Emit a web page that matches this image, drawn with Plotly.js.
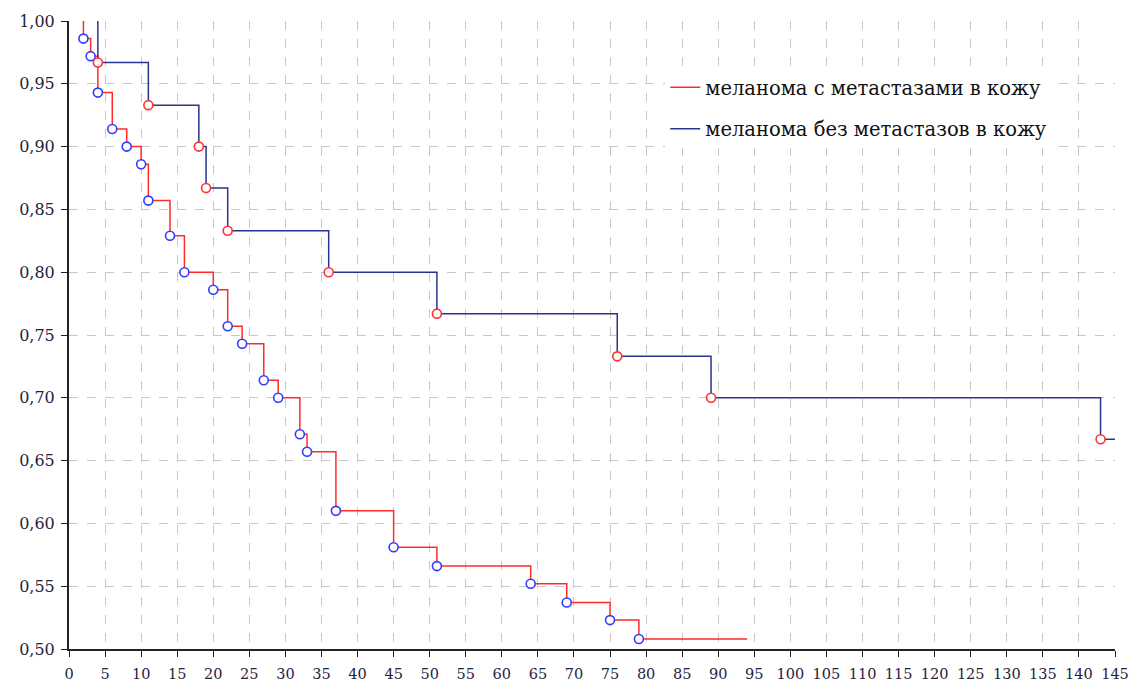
<!DOCTYPE html>
<html>
<head>
<meta charset="utf-8">
<script src="https://cdn.plot.ly/plotly-3.0.1.min.js"></script>
<style>html,body{margin:0;padding:0;background:#fff;}#chart{width:1136px;height:689px;}</style>
</head>
<body>
<div id="chart"></div>
<script>
// Series 1: меланома с метастазами в кожу (red line, blue markers)
const redTimes = [2, 3, 4, 6, 8, 10, 11, 14, 16, 20, 22, 24, 27, 29, 32, 33, 37, 45, 51, 64, 69, 75, 79];
const redSurv  = [0.986, 0.972, 0.943, 0.914, 0.900, 0.886, 0.857, 0.829, 0.800, 0.786, 0.757, 0.743, 0.714, 0.700, 0.671, 0.657, 0.610, 0.581, 0.566, 0.552, 0.537, 0.523, 0.508];
const redStart = 2, redEnd = 94;

// Series 2: меланома без метастазов в кожу (navy line, red markers)
const blueTimes = [4, 11, 18, 19, 22, 36, 51, 76, 89, 143];
const blueSurv  = [0.967, 0.933, 0.900, 0.867, 0.833, 0.800, 0.767, 0.733, 0.700, 0.667];
const blueStart = 4, blueEnd = 145;

const seriesNames = ["меланома с метастазами в кожу", "меланома без метастазов в кожу"];
const xTicks = [];
for (let v = 0; v <= 145; v += 5) xTicks.push(v);
const yTicks = [0.50, 0.55, 0.60, 0.65, 0.70, 0.75, 0.80, 0.85, 0.90, 0.95, 1.00];

function stepLine(start, times, surv, end) {
  const x = [start].concat(times, [end]);
  const y = [1.0].concat(surv, [surv[surv.length - 1]]);
  return {x, y};
}
const redL = stepLine(redStart, redTimes, redSurv, redEnd);
const blueL = stepLine(blueStart, blueTimes, blueSurv, blueEnd);

const RED = "#ff2a2a", NAVY = "#2a3390", BLUEM = "#2f3cff", REDM = "#ff3030";
const SERIF = "DejaVu Serif";

const traces = [
  {x: redL.x, y: redL.y, mode: "lines", line: {shape: "hv", color: RED, width: 1.5}, name: seriesNames[0], legendgroup: "a", hoverinfo: "skip"},
  {x: blueL.x, y: blueL.y, mode: "lines", line: {shape: "hv", color: NAVY, width: 1.5}, name: seriesNames[1], legendgroup: "b", hoverinfo: "skip"},
  {x: redTimes, y: redSurv, mode: "markers", showlegend: false, cliponaxis: false,
   marker: {symbol: "circle", size: 9, color: "#ffffff", line: {color: BLUEM, width: 1.6}}},
  {x: blueTimes, y: blueSurv, mode: "markers", showlegend: false, cliponaxis: false,
   marker: {symbol: "circle", size: 9, color: "#ffffff", line: {color: REDM, width: 1.6}}}
];

const layout = {
  width: 1136, height: 689,
  margin: {l: 69, r: 21, t: 21, b: 40, pad: 0},
  paper_bgcolor: "#ffffff", plot_bgcolor: "#ffffff",
  separators: ",.",
  font: {family: SERIF, color: "#1f2240", size: 15},
  showlegend: true,
  legend: {x: 0.57, y: 0.925, xanchor: "left", yanchor: "top", bgcolor: "#ffffff", borderwidth: 0,
           font: {size: 19.5, family: SERIF, color: "#111"},
           traceorder: "grouped", tracegroupgap: 13},
  xaxis: {range: [0, 145], tickvals: xTicks, ticktext: xTicks.map(String), showgrid: true,
          gridcolor: "#c8c8c8", griddash: "dash", gridwidth: 1,
          showline: true, linecolor: "#222", linewidth: 2, ticks: "outside", ticklen: 6, tickcolor: "#222",
          ticklabelstandoff: 5,
          zeroline: false, tickfont: {size: 14.5, family: SERIF, color: "#1f2240"}, fixedrange: true},
  yaxis: {range: [0.5, 1.0], tickvals: yTicks, tickformat: ".2f", showgrid: true,
          gridcolor: "#c8c8c8", griddash: "dash", gridwidth: 1,
          showline: true, linecolor: "#222", linewidth: 2, ticks: "outside", ticklen: 6, tickcolor: "#222",
          ticklabelstandoff: 3,
          zeroline: false, tickfont: {size: 16, family: SERIF, color: "#1f2240"}, fixedrange: true}
};

Plotly.newPlot("chart", traces, layout, {displayModeBar: false, staticPlot: true});
</script>
</body>
</html>
